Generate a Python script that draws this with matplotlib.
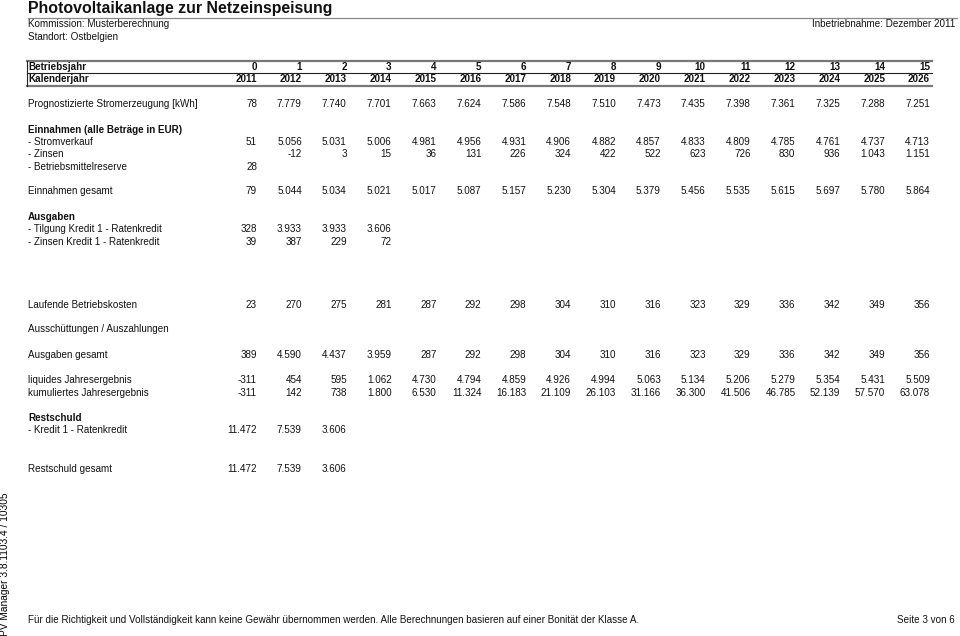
import matplotlib
matplotlib.use("Agg")
import matplotlib.pyplot as plt

plt.rcParams['font.family'] = ['Liberation Sans', 'DejaVu Sans']

# ---- data ----
betriebsjahr = [0, 1, 2, 3, 4, 5, 6, 7, 8, 9, 10, 11, 12, 13, 14, 15]
kalenderjahr = [2011, 2012, 2013, 2014, 2015, 2016, 2017, 2018, 2019, 2020,
                2021, 2022, 2023, 2024, 2025, 2026]
stromerzeugung = [78, 7779, 7740, 7701, 7663, 7624, 7586, 7548, 7510, 7473,
                  7435, 7398, 7361, 7325, 7288, 7251]
stromverkauf = [51, 5056, 5031, 5006, 4981, 4956, 4931, 4906, 4882, 4857,
                4833, 4809, 4785, 4761, 4737, 4713]
zinsen = [None, -12, 3, 15, 36, 131, 226, 324, 422, 522, 623, 726, 830, 936,
          1043, 1151]
betriebsmittelreserve = [28]
einnahmen_gesamt = [79, 5044, 5034, 5021, 5017, 5087, 5157, 5230, 5304, 5379,
                    5456, 5535, 5615, 5697, 5780, 5864]
tilgung_kredit = [328, 3933, 3933, 3606]
zinsen_kredit = [39, 387, 229, 72]
laufende_kosten = [23, 270, 275, 281, 287, 292, 298, 304, 310, 316, 323, 329,
                   336, 342, 349, 356]
ausgaben_gesamt = [389, 4590, 4437, 3959, 287, 292, 298, 304, 310, 316, 323,
                   329, 336, 342, 349, 356]
liquides_ergebnis = [-311, 454, 595, 1062, 4730, 4794, 4859, 4926, 4994, 5063,
                     5134, 5206, 5279, 5354, 5431, 5509]
kumuliertes_ergebnis = [-311, 142, 738, 1800, 6530, 11324, 16183, 21109, 26103,
                        31166, 36300, 41506, 46785, 52139, 57570, 63078]
restschuld_kredit = [11472, 7539, 3606]
restschuld_gesamt = [11472, 7539, 3606]


def fmt(v):
    if v is None:
        return ""
    return f"{v:,}".replace(",", ".")


W, H = 960, 636
fig = plt.figure(figsize=(W / 100, H / 100), dpi=100)
ax = fig.add_axes([0, 0, 1, 1])
ax.set_xlim(0, W)
ax.set_ylim(H, 0)
ax.axis('off')

FS = 7.15
TXT = '#111111'
LEFT = 28


def col_x(k):
    return 257 + 44.87 * k


def row(y, label, values, bold=False, valbold=False, plain=False):
    if label:
        ax.text(LEFT, y, label, fontsize=FS, ha='left', va='center', color=TXT,
                fontweight='bold' if bold else 'normal')
    for k, v in enumerate(values):
        s = str(v) if plain else fmt(v)
        if s:
            ax.text(col_x(k), y, s, fontsize=FS, ha='right', va='center',
                    color=TXT, fontweight='bold' if valbold else 'normal')


# ---- header ----
ax.text(LEFT, 8.5, "Photovoltaikanlage zur Netzeinspeisung", fontsize=11.4,
        fontweight='bold', ha='left', va='center', color=TXT)
ax.plot([LEFT, 957], [18, 18], color='#888888', lw=0.9)
ax.text(LEFT, 24, "Kommission: Musterberechnung", fontsize=FS, ha='left',
        va='center', color=TXT)
ax.text(955, 24, "Inbetriebnahme: Dezember 2011", fontsize=FS, ha='right',
        va='center', color=TXT)
ax.text(LEFT, 37, "Standort: Ostbelgien", fontsize=FS, ha='left', va='center',
        color=TXT)

# header box
ax.plot([LEFT - 1, 932], [61, 61], color='#777777', lw=1.6)
ax.plot([LEFT - 1, 932], [73.3, 73.3], color='#222222', lw=0.8)
ax.plot([LEFT - 1, 932], [86, 86], color='#777777', lw=1.6)
ax.plot([LEFT - 1, LEFT - 1], [61, 86], color='#222222', lw=0.8)

row(67, "Betriebsjahr", betriebsjahr, bold=True, valbold=True, plain=True)
row(79.5, "Kalenderjahr", kalenderjahr, bold=True, valbold=True, plain=True)

# ---- body ----
row(104, "Prognostizierte Stromerzeugung [kWh]", stromerzeugung)
row(130, "Einnahmen (alle Beträge in EUR)", [], bold=True)
row(142, "- Stromverkauf", stromverkauf)
row(154, "- Zinsen", zinsen)
row(166.5, "- Betriebsmittelreserve", betriebsmittelreserve)
row(191.5, "Einnahmen gesamt", einnahmen_gesamt)
row(217, "Ausgaben", [], bold=True)
row(229.5, "- Tilgung Kredit 1 - Ratenkredit", tilgung_kredit)
row(242, "- Zinsen Kredit 1 - Ratenkredit", zinsen_kredit)
row(304.5, "Laufende Betriebskosten", laufende_kosten)
row(329.5, "Ausschüttungen / Auszahlungen", [])
row(355, "Ausgaben gesamt", ausgaben_gesamt)
row(380, "liquides Jahresergebnis", liquides_ergebnis)
row(392.5, "kumuliertes Jahresergebnis", kumuliertes_ergebnis)
row(418, "Restschuld", [], bold=True)
row(430, "- Kredit 1 - Ratenkredit", restschuld_kredit)
row(468.5, "Restschuld gesamt", restschuld_gesamt)

# ---- footer ----
ax.text(LEFT, 620, "Für die Richtigkeit und Vollständigkeit kann keine Gewähr "
        "übernommen werden. Alle Berechnungen basieren auf einer Bonität der Klasse A.",
        fontsize=7.15, ha='left', va='center', color=TXT)
ax.text(955, 620, "Seite 3 von 6", fontsize=7.15, ha='right', va='center',
        color=TXT)
ax.text(5.5, 636, "PV Manager 3.8.1103.4 / 10305", fontsize=7.3, rotation=90,
        rotation_mode='anchor', ha='left', va='center', color='#000000')

fig.savefig("out.png", dpi=100)
